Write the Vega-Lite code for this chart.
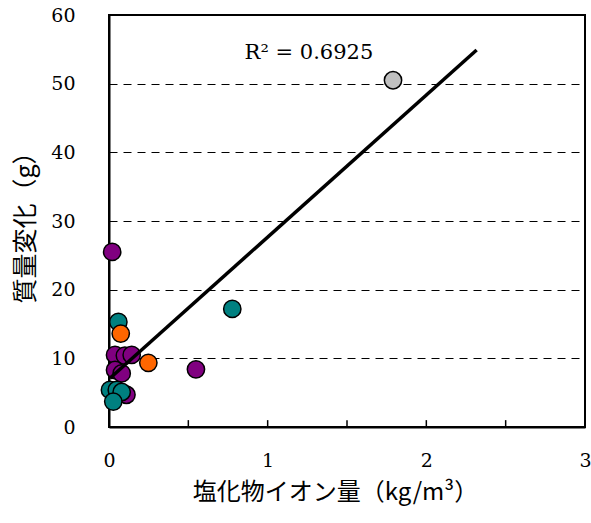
{
  "$schema": "https://vega.github.io/schema/vega-lite/v6.json",
  "width": 476,
  "height": 412,
  "autosize": "none",
  "padding": {"left": 109, "top": 15, "right": 6, "bottom": 96},
  "background": "white",
  "config": {
    "view": {"stroke": "black", "strokeWidth": 2},
    "font": "DejaVu Serif"
  },
  "datasets": {
    "pts": [
      {"x": 0.02, "y": 25.5, "s": "A"},
      {"x": 0.038, "y": 10.5, "s": "A"},
      {"x": 0.10, "y": 10.4, "s": "A"},
      {"x": 0.143, "y": 10.5, "s": "A"},
      {"x": 0.548, "y": 8.4, "s": "A"},
      {"x": 0.038, "y": 8.3, "s": "A"},
      {"x": 0.08, "y": 7.8, "s": "A"},
      {"x": 0.11, "y": 4.7, "s": "A"},
      {"x": 0.777, "y": 17.2, "s": "B"},
      {"x": 0.059, "y": 15.3, "s": "B"},
      {"x": 0.006, "y": 5.4, "s": "B"},
      {"x": 0.049, "y": 5.4, "s": "B"},
      {"x": 0.08, "y": 5.1, "s": "B"},
      {"x": 0.027, "y": 3.7, "s": "B"},
      {"x": 0.074, "y": 13.6, "s": "C"},
      {"x": 0.248, "y": 9.35, "s": "C"},
      {"x": 1.79, "y": 50.5, "s": "D"}
    ],
    "fit": [
      {"x": 0.006, "y": 7.1},
      {"x": 2.317, "y": 54.9}
    ],
    "ticks": [
      {"x": 0.5}, {"x": 1}, {"x": 1.5}, {"x": 2}, {"x": 2.5}
    ],
    "lab": [
      {"x": 1.26, "y": 54.5, "t": "R² = 0.6925"}
    ]
  },
  "layer": [
    {
      "data": {"name": "pts"},
      "mark": {"type": "point", "shape": "circle", "filled": true, "size": 300, "stroke": "black", "strokeWidth": 1.5, "opacity": 1},
      "encoding": {
        "x": {
          "field": "x", "type": "quantitative",
          "scale": {"domain": [0, 3], "nice": false, "zero": false},
          "axis": {
            "title": "塩化物イオン量（kg/m³）",
            "values": [0, 1, 2, 3],
            "format": "d",
            "grid": false,
            "ticks": false,
            "domainColor": "black",
            "domainWidth": 2,
            "labelFont": "DejaVu Serif",
            "labelFontSize": 19,
            "labelColor": "black",
            "labelPadding": 24,
            "labelFlush": false,
            "titleFont": "Noto Sans CJK JP",
            "titleFontSize": 24,
            "titleFontWeight": "normal",
            "titleColor": "black",
            "titlePadding": 10,
            "titleX": 226
          }
        },
        "y": {
          "field": "y", "type": "quantitative",
          "scale": {"domain": [0, 60], "nice": false},
          "axis": {
            "title": "質量変化（g）",
            "values": [0, 10, 20, 30, 40, 50, 60],
            "grid": true,
            "gridColor": "black",
            "gridDash": [8, 6],
            "gridWidth": 1,
            "ticks": false,
            "domainColor": "black",
            "domainWidth": 2,
            "labelFont": "DejaVu Serif",
            "labelFontSize": 19,
            "labelColor": "black",
            "labelPadding": 34,
            "labelFlush": false,
            "titleFont": "Noto Sans CJK JP",
            "titleFontSize": 25,
            "titleFontWeight": "normal",
            "titleColor": "black",
            "titlePadding": 12
          }
        },
        "fill": {
          "field": "s", "type": "nominal",
          "scale": {"domain": ["A", "B", "C", "D"], "range": ["#800080", "#008080", "#FF6600", "#C0C0C0"]},
          "legend": null
        }
      }
    },
    {
      "data": {"name": "ticks"},
      "mark": {"type": "rule", "color": "black", "strokeWidth": 1.5},
      "encoding": {
        "x": {"field": "x", "type": "quantitative"},
        "y": {"datum": 0},
        "y2": {"datum": 1}
      }
    },
    {
      "data": {"name": "fit"},
      "mark": {"type": "line", "color": "black", "strokeWidth": 3.5},
      "encoding": {
        "x": {"field": "x", "type": "quantitative"},
        "y": {"field": "y", "type": "quantitative"}
      }
    },
    {
      "data": {"name": "lab"},
      "mark": {"type": "text", "font": "DejaVu Serif", "fontSize": 21, "color": "black", "align": "center", "baseline": "middle"},
      "encoding": {
        "x": {"field": "x", "type": "quantitative"},
        "y": {"field": "y", "type": "quantitative"},
        "text": {"field": "t"}
      }
    }
  ]
}
